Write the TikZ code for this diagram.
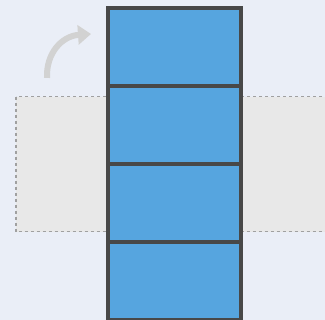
\documentclass[tikz,border=0pt]{standalone}
\usetikzlibrary{arrows.meta}
\definecolor{bgc}{HTML}{EAEEF7}
\definecolor{bandc}{HTML}{E8E8E8}
\definecolor{dashc}{HTML}{A0A0A0}
\definecolor{cellc}{HTML}{56A5DF}
\definecolor{edgec}{HTML}{484848}
\definecolor{arrc}{HTML}{D2D2D2}
\tikzset{
  cell/.style={draw=edgec, fill=cellc, line width=4pt, minimum width=133pt, minimum height=78pt, inner sep=0pt, outer sep=0pt, anchor=north west},
  band/.style={draw=dashc, fill=bandc, dashed, line width=1pt},
  turn/.style={draw=arrc, line width=6pt, -{Triangle[length=13pt,width=19pt]}}
}
\begin{document}
\begin{tikzpicture}[x=1pt,y=-1pt]
\useasboundingbox (0,0) rectangle (325,320);
\clip (0,0) rectangle (325,320);
\fill[bgc] (0,0) rectangle (325,320);
\draw[band] (16,97) rectangle (340,232);
\node[cell] (c1) at (108,8) {};
\node[cell] (c2) at (108,86) {};
\node[cell] (c3) at (108,164) {};
\node[cell] (c4) at (108,242) {};
\coordinate (s) at (47,78);
\coordinate (e) at (91,34);
\draw[turn] (s) .. controls (46,53) and (62,36) .. (e);
\end{tikzpicture}
\end{document}
